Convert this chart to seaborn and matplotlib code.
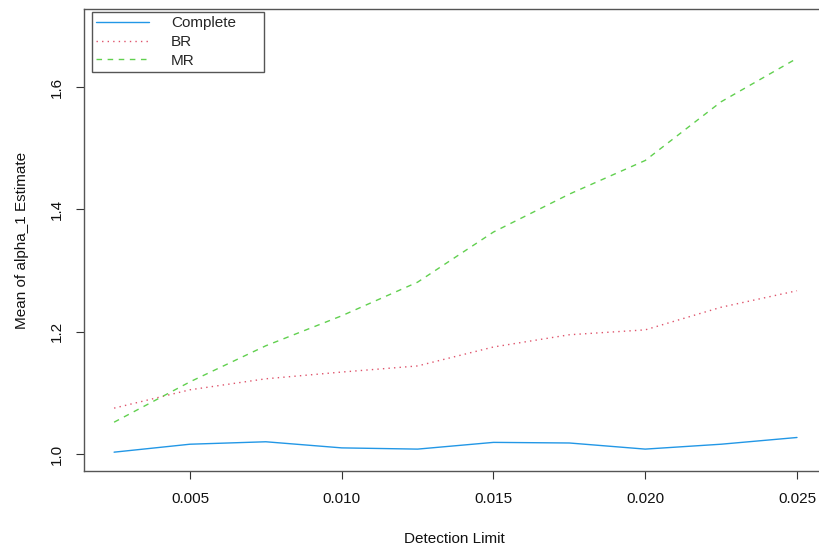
import numpy as np
import pandas as pd
import matplotlib
matplotlib.use("Agg")
import matplotlib.pyplot as plt
import seaborn as sns
from matplotlib.lines import Line2D

# Mean alpha_1 estimates by detection limit for each method
detection_limit = [0.0025, 0.005, 0.0075, 0.010, 0.0125, 0.015, 0.0175, 0.020, 0.0225, 0.025]
complete = [1.003, 1.016, 1.020, 1.010, 1.008, 1.019, 1.018, 1.008, 1.016, 1.027]
br = [1.075, 1.105, 1.123, 1.134, 1.144, 1.175, 1.195, 1.203, 1.240, 1.267]
mr = [1.052, 1.118, 1.177, 1.226, 1.281, 1.363, 1.425, 1.480, 1.576, 1.647]

methods = ["Complete", "BR", "MR"]
colors = {"Complete": "#2297E6", "BR": "#DF536B", "MR": "#61D04F"}
dashes = {"Complete": "", "BR": (1, 3), "MR": (4, 4)}

x_ticks = [0.005, 0.010, 0.015, 0.020, 0.025]
x_ticklabels = ["0.005", "0.010", "0.015", "0.020", "0.025"]
y_ticks = [1.0, 1.2, 1.4, 1.6]
y_ticklabels = ["1.0", "1.2", "1.4", "1.6"]

df = pd.DataFrame({
    "Detection Limit": detection_limit * 3,
    "Estimate": complete + br + mr,
    "Method": ["Complete"] * 10 + ["BR"] * 10 + ["MR"] * 10,
})

sns.set_style("white")
plt.rcParams["font.family"] = ["Liberation Sans", "DejaVu Sans"]

W, H = 820, 548
fig = plt.figure(figsize=(W / 100, H / 100), dpi=100)
left, right, top, bottom = 84.5, 824, 9, 471
ax = fig.add_axes([left / W, 1 - bottom / H, (right - left) / W, (bottom - top) / H])

sns.lineplot(data=df, x="Detection Limit", y="Estimate", hue="Method", style="Method",
             hue_order=methods, style_order=methods, palette=colors, dashes=dashes,
             linewidth=1.0, ax=ax, legend=False)

ax.set_xlim(0.001525, 0.02589)
ax.set_ylim(0.9722, 1.7277)
ax.set_xticks(x_ticks)
ax.set_xticklabels(x_ticklabels)
ax.set_yticks(y_ticks)
ax.set_yticklabels(y_ticklabels, rotation=90, va="center")
ax.tick_params(axis="both", direction="out", length=6, width=0.8, color="#333333",
               labelsize=11, labelcolor="#111111", bottom=True, left=True)
ax.tick_params(axis="x", pad=9)
ax.tick_params(axis="y", pad=9)
for s in ax.spines.values():
    s.set_color("#555555")
    s.set_linewidth(1.0)

ax.set_xlabel("Detection Limit", fontsize=11, color="#111111", labelpad=19)
ax.set_ylabel("Mean of alpha_1 Estimate", fontsize=11, color="#111111", labelpad=15)

handles = [Line2D([], [], color=colors[m], lw=1.0,
                  linestyle=("-" if dashes[m] == "" else (0, dashes[m])))
           for m in methods]
leg_w = (264 - 92) / (right - left)
leg_h = (69 - 12) / (bottom - top)
leg_x = (92 - left) / (right - left)
leg_top = 1 - (12 - top) / (bottom - top)
leg = ax.legend(handles, methods, loc="upper left",
                bbox_to_anchor=(leg_x, leg_top - leg_h, leg_w, leg_h),
                mode="expand", frameon=True, fancybox=False, edgecolor="#555555", fontsize=11,
                handlelength=3.5, handletextpad=1.4, borderpad=0.26,
                labelspacing=0.32, borderaxespad=0.0)
leg.get_frame().set_linewidth(1.0)
leg.get_frame().set_facecolor("white")
leg.get_frame().set_alpha(1.0)

fig.savefig("out.png", dpi=100)
